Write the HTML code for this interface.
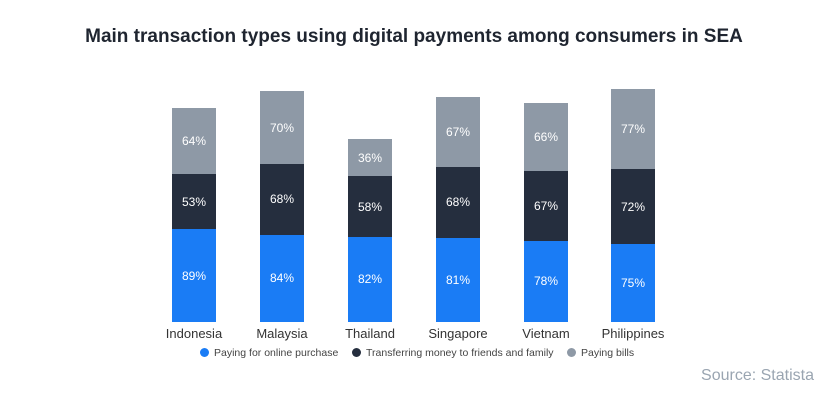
<!DOCTYPE html><html><head><style>
body{margin:0;width:828px;height:402px;background:#fff;font-family:"Liberation Sans",sans-serif;position:relative;overflow:hidden}
.t{position:absolute;left:0;width:828px;top:26px;text-align:center;font-size:19px;font-weight:bold;color:#1f2530}
.b{position:absolute;width:44px;color:#fff;font-size:12px;display:flex;align-items:center;justify-content:center}
.c1{background:#1a7cf5}.c2{background:#252e3e}.c3{background:#8e99a6}
.l{position:absolute;top:326px;width:120px;text-align:center;font-size:13px;color:#333}
.lg{position:absolute;top:347px;font-size:10.5px;color:#444}
.d{display:inline-block;width:9px;height:9px;border-radius:50%;vertical-align:-1px;margin-right:5px}
</style></head><body>
<div class="t">Main transaction types using digital payments among consumers in SEA</div>
<div id="c"></div>
<script>
const d=[["Indonesia",172,89,53,64],["Malaysia",260,84,68,70],["Thailand",348,82,58,36],["Singapore",436,81,68,67],["Vietnam",524,78,67,66],["Philippines",611,75,72,77]];
let h="";const B=322,s=1.04;
for(const[n,x,a,b,c] of d){let y=B;[[a,"c1"],[b,"c2"],[c,"c3"]].forEach(([v,k])=>{const hh=v*s;y-=hh;h+=`<div class="b ${k}" style="left:${x}px;top:${y}px;height:${hh}px">${v}%</div>`});
h+=`<div class="l" style="left:${x-38}px">${n}</div>`}
document.getElementById("c").innerHTML=h;
</script>
<div class="lg" style="left:200px"><span class="d" style="background:#1a7cf5"></span>Paying for online purchase</div>
<div class="lg" style="left:352px"><span class="d" style="background:#252e3e"></span>Transferring money to friends and family</div>
<div class="lg" style="left:567px"><span class="d" style="background:#8e99a6"></span>Paying bills</div>
<div style="position:absolute;right:14px;top:367px;font-size:16px;color:#9aa5b1">Source: Statista</div>
</body></html>
